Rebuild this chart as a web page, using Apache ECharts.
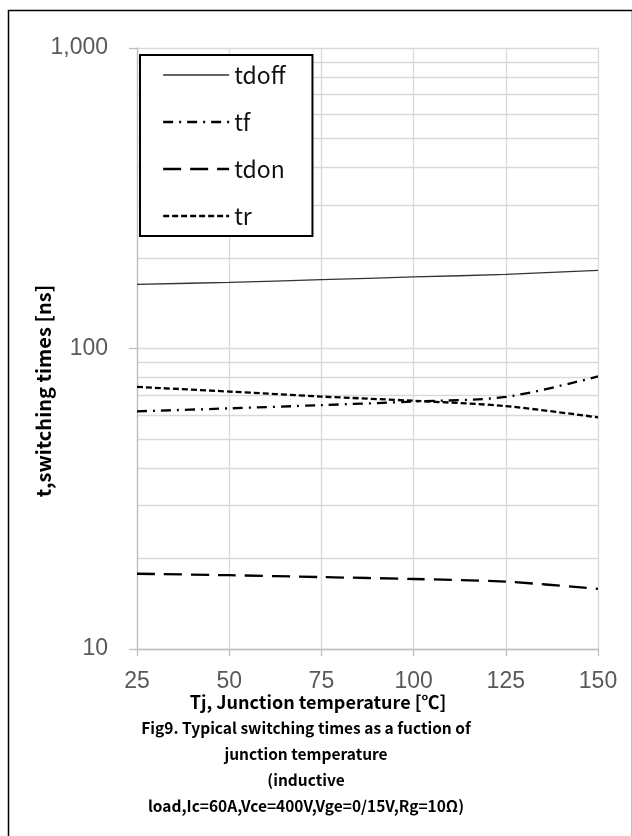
<!DOCTYPE html>
<html>
<head>
<meta charset="utf-8">
<script src="https://cdn.jsdelivr.net/npm/echarts@6/dist/echarts.min.js"></script>
<style>html,body{margin:0;padding:0;background:#fff;}#c{width:632px;height:836px;}</style>
</head>
<body>
<div id="c"></div>
<script>
// ---- data ----
const temps = [25, 50, 75, 100, 125, 150];
const tdoff = [163.5, 166, 169.5, 173, 176.5, 182];
const tf    = [61.8, 63.2, 64.8, 66.6, 69.0, 80.7];
const tdon  = [17.8, 17.6, 17.35, 17.1, 16.75, 15.85];
const tr    = [74.5, 71.9, 69.2, 67.0, 64.3, 59.0];
const xTicks = [25, 50, 75, 100, 125, 150];
const yTicks = [10, 100, 1000];
const minorGrid = [20,30,40,50,60,70,80,90,200,300,400,500,600,700,800,900];
const seriesNames = ['tdoff', 'tf', 'tdon', 'tr'];
const xTitle = 'Tj, Junction temperature [℃]';
const yTitle = 't,switching times [ns]';
const caption = ['Fig9. Typical switching times as a fuction of', 'junction temperature', '(inductive', 'load,Ic=60A,Vce=400V,Vge=0/15V,Rg=10Ω)'];

const pair = arr => temps.map((t, i) => [t, arr[i]]);
const FONT = '"Noto Sans CJK SC", "Noto Sans", sans-serif';
const LABELFONT = '"Liberation Sans", Arial, sans-serif';

const styles = {
  tdoff: {color: '#333', width: 1.3, type: 'solid'},
  tf:    {color: '#000', width: 2.3, type: [10, 6, 2, 6]},
  tdon:  {color: '#000', width: 2.3, type: [18, 9]},
  tr:    {color: '#000', width: 2.3, type: [6, 3]}
};
const values = {tdoff, tf, tdon, tr};

const chart = echarts.init(document.getElementById('c'), null, {renderer: 'canvas'});
chart.setOption({
  animation: false,
  backgroundColor: '#fff',
  textStyle: {fontFamily: FONT},
  grid: {left: 137, right: 34, top: 48, bottom: 187, containLabel: false},
  xAxis: {
    type: 'value', min: 25, max: 150, interval: 25,
    axisLine: {show: true, lineStyle: {color: '#bfbfbf', width: 1.3}},
    axisTick: {show: true, length: 7, lineStyle: {color: '#bfbfbf', width: 1.3}},
    axisLabel: {color: '#595959', fontSize: 23, fontFamily: LABELFONT, margin: 21,
      customValues: xTicks},
    splitLine: {show: true, lineStyle: {color: '#d9d9d9', width: 1.3}}
  },
  yAxis: {
    type: 'log', logBase: 10, min: 10, max: 1000,
    axisLine: {show: true, lineStyle: {color: '#bfbfbf', width: 1.3}},
    axisTick: {show: true, length: 8, lineStyle: {color: '#bfbfbf', width: 1.3}},
    axisLabel: {color: '#595959', fontSize: 23, fontFamily: LABELFONT, margin: 29,
      formatter: v => Number(v).toLocaleString('en-US')},
    splitLine: {show: true, lineStyle: {color: '#d9d9d9', width: 1.3}}
  },
  legend: {
    orient: 'vertical', left: 140, top: 55, z: 20, zlevel: 0,
    data: seriesNames.map(n => ({name: n, lineStyle: styles[n], itemStyle: {opacity: 0}})),
    itemWidth: 66, itemHeight: 20, itemGap: 23,
    padding: [8, 27, 8, 22],
    borderColor: '#000', borderWidth: 2, backgroundColor: '#fff',
    itemStyle: {opacity: 0},
    textStyle: {fontSize: 23, lineHeight: 24, color: '#111', fontFamily: FONT},
    selectedMode: false
  },
  series: [
    {name: 'grid', type: 'line', data: [], z: 0, silent: true,
     markLine: {silent: true, symbol: 'none', label: {show: false}, animation: false, z: 0,
       lineStyle: {color: '#d9d9d9', width: 1.3, type: 'solid'},
       data: minorGrid.map(v => ({yAxis: v}))}},
    ...seriesNames.map(n => ({
      name: n, type: 'line', data: pair(values[n]), symbol: 'none', smooth: 0.3, z: 3,
      itemStyle: {color: styles[n].color}, lineStyle: styles[n]
    }))
  ],
  graphic: [
    {type: 'rect', left: 6, top: 8, shape: {width: 624, height: 827}, z: -10,
     style: {fill: null, stroke: '#000', lineWidth: 1.5}},
    {type: 'text', x: 43, y: 391, rotation: Math.PI / 2,
     style: {text: yTitle, fontSize: 20, fontWeight: 'bold', fontFamily: FONT, fill: '#000',
       align: 'center', verticalAlign: 'middle'}},
    {type: 'text', x: 318, y: 702,
     style: {text: xTitle, fontSize: 18, fontWeight: 'bold', fontFamily: FONT, fill: '#000',
       align: 'center', verticalAlign: 'middle'}},
    ...caption.map((t, i) => ({type: 'text', x: 306, y: 728 + i * 26,
     style: {text: t, fontSize: 15.5, fontWeight: 'bold', fontFamily: FONT, fill: '#000',
       align: 'center', verticalAlign: 'middle'}}))
  ]
});
</script>
</body>
</html>
